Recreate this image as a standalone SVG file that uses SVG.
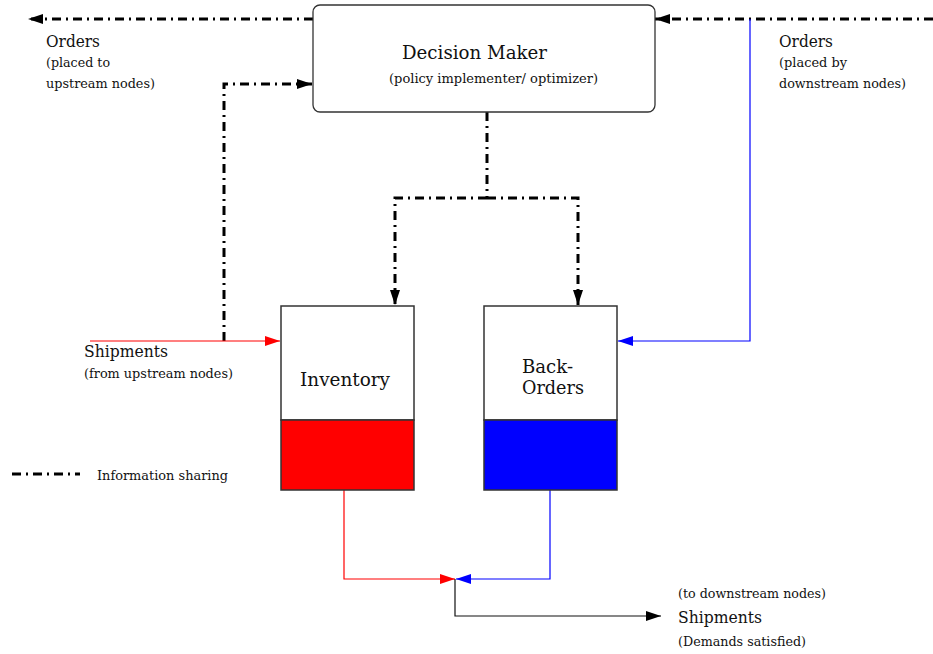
<svg xmlns="http://www.w3.org/2000/svg" width="933" height="654" viewBox="0 0 933 654">
<style>
text{font-family:"DejaVu Serif","Liberation Serif",serif;fill:#111}
.big{font-size:19px}
.mid{font-size:16px}
.sm{font-size:13px}
.info{fill:none;stroke:#000;stroke-width:3;stroke-dasharray:9 5 2 5}
.box{stroke:#333;stroke-width:1.5}
.red{fill:none;stroke:#ff0000;stroke-width:1.2}
.blue{fill:none;stroke:#0000ff;stroke-width:1.2}
.blk{fill:none;stroke:#111;stroke-width:1.2}
</style>
<defs>
<marker id="ak" markerUnits="userSpaceOnUse" markerWidth="16" markerHeight="10" refX="15" refY="5" orient="auto"><path d="M0,0 L15,5 L0,10 Z" fill="#000"/></marker>
<marker id="ar" markerUnits="userSpaceOnUse" markerWidth="16" markerHeight="10" refX="15" refY="5" orient="auto"><path d="M0,0 L15,5 L0,10 Z" fill="#ff0000"/></marker>
<marker id="ab" markerUnits="userSpaceOnUse" markerWidth="16" markerHeight="10" refX="15" refY="5" orient="auto"><path d="M0,0 L15,5 L0,10 Z" fill="#0000ff"/></marker>
</defs>
<g id="connectors">
<path class="info" d="M313,19 H28" marker-end="url(#ak)"/>
<path class="info" d="M933,19 H655" marker-end="url(#ak)"/>
<path class="info" d="M224,341 V84 H312" marker-end="url(#ak)"/>
<path class="info" d="M487,112 V198"/>
<path class="info" d="M487,198 H395 V305" marker-end="url(#ak)"/>
<path class="info" d="M487,198 H578 V305" marker-end="url(#ak)"/>
<path class="blue" d="M750,19 V341 H618" marker-end="url(#ab)"/>
<path class="red" d="M90,341 H280" marker-end="url(#ar)"/>
<path class="red" d="M344,490 V579 H455" marker-end="url(#ar)"/>
<path class="blue" d="M550,490 V579 H456" marker-end="url(#ab)"/>
<path class="blk" d="M455,579 V616 H661" marker-end="url(#ak)"/>
</g>
<g id="decision-maker">
<rect x="313" y="5" width="342" height="107" rx="7" fill="#fff" stroke="#333" stroke-width="1.3"/>
<text class="big" x="402" y="59" textLength="145" lengthAdjust="spacingAndGlyphs">Decision Maker</text>
<text class="sm" x="389" y="83" textLength="209" lengthAdjust="spacingAndGlyphs">(policy implementer/ optimizer)</text>
</g>
<g id="inventory">
<rect class="box" x="281" y="306" width="133" height="114" fill="#fff"/>
<rect class="box" x="281" y="420" width="133" height="70" fill="#ff0000" stroke="#111"/>
<text x="300" y="386" style="font-size:18px" textLength="90" lengthAdjust="spacingAndGlyphs">Inventory</text>
</g>
<g id="back-orders">
<rect class="box" x="484" y="306" width="133" height="114" fill="#fff"/>
<rect class="box" x="484" y="420" width="133" height="70" fill="#0000ff" stroke="#111"/>
<text x="522" y="373" style="font-size:18px" textLength="51" lengthAdjust="spacingAndGlyphs">Back-</text>
<text x="522" y="394" style="font-size:18px" textLength="62" lengthAdjust="spacingAndGlyphs">Orders</text>
</g>
<g id="orders-upstream">
<text class="mid" x="46" y="47" textLength="54" lengthAdjust="spacingAndGlyphs">Orders</text>
<text class="sm" x="46" y="67" textLength="64" lengthAdjust="spacingAndGlyphs">(placed to</text>
<text class="sm" x="46" y="88" textLength="109" lengthAdjust="spacingAndGlyphs">upstream nodes)</text>
</g>
<g id="orders-downstream">
<text class="mid" x="779" y="47" textLength="54" lengthAdjust="spacingAndGlyphs">Orders</text>
<text class="sm" x="779" y="67" textLength="68" lengthAdjust="spacingAndGlyphs">(placed by</text>
<text class="sm" x="779" y="88" textLength="127" lengthAdjust="spacingAndGlyphs">downstream nodes)</text>
</g>
<g id="shipments-in">
<text class="mid" x="84" y="357" textLength="84" lengthAdjust="spacingAndGlyphs">Shipments</text>
<text class="sm" x="84" y="378" textLength="149" lengthAdjust="spacingAndGlyphs">(from upstream nodes)</text>
</g>
<g id="shipments-out">
<text class="sm" x="678" y="598" textLength="148" lengthAdjust="spacingAndGlyphs">(to downstream nodes)</text>
<text class="mid" x="678" y="623" textLength="84" lengthAdjust="spacingAndGlyphs">Shipments</text>
<text class="sm" x="678" y="646" textLength="128" lengthAdjust="spacingAndGlyphs">(Demands satisfied)</text>
</g>
<g id="legend">
<path class="info" d="M12,474 H80"/>
<text class="sm" x="97" y="480" textLength="131" lengthAdjust="spacingAndGlyphs">Information sharing</text>
</g>
</svg>
